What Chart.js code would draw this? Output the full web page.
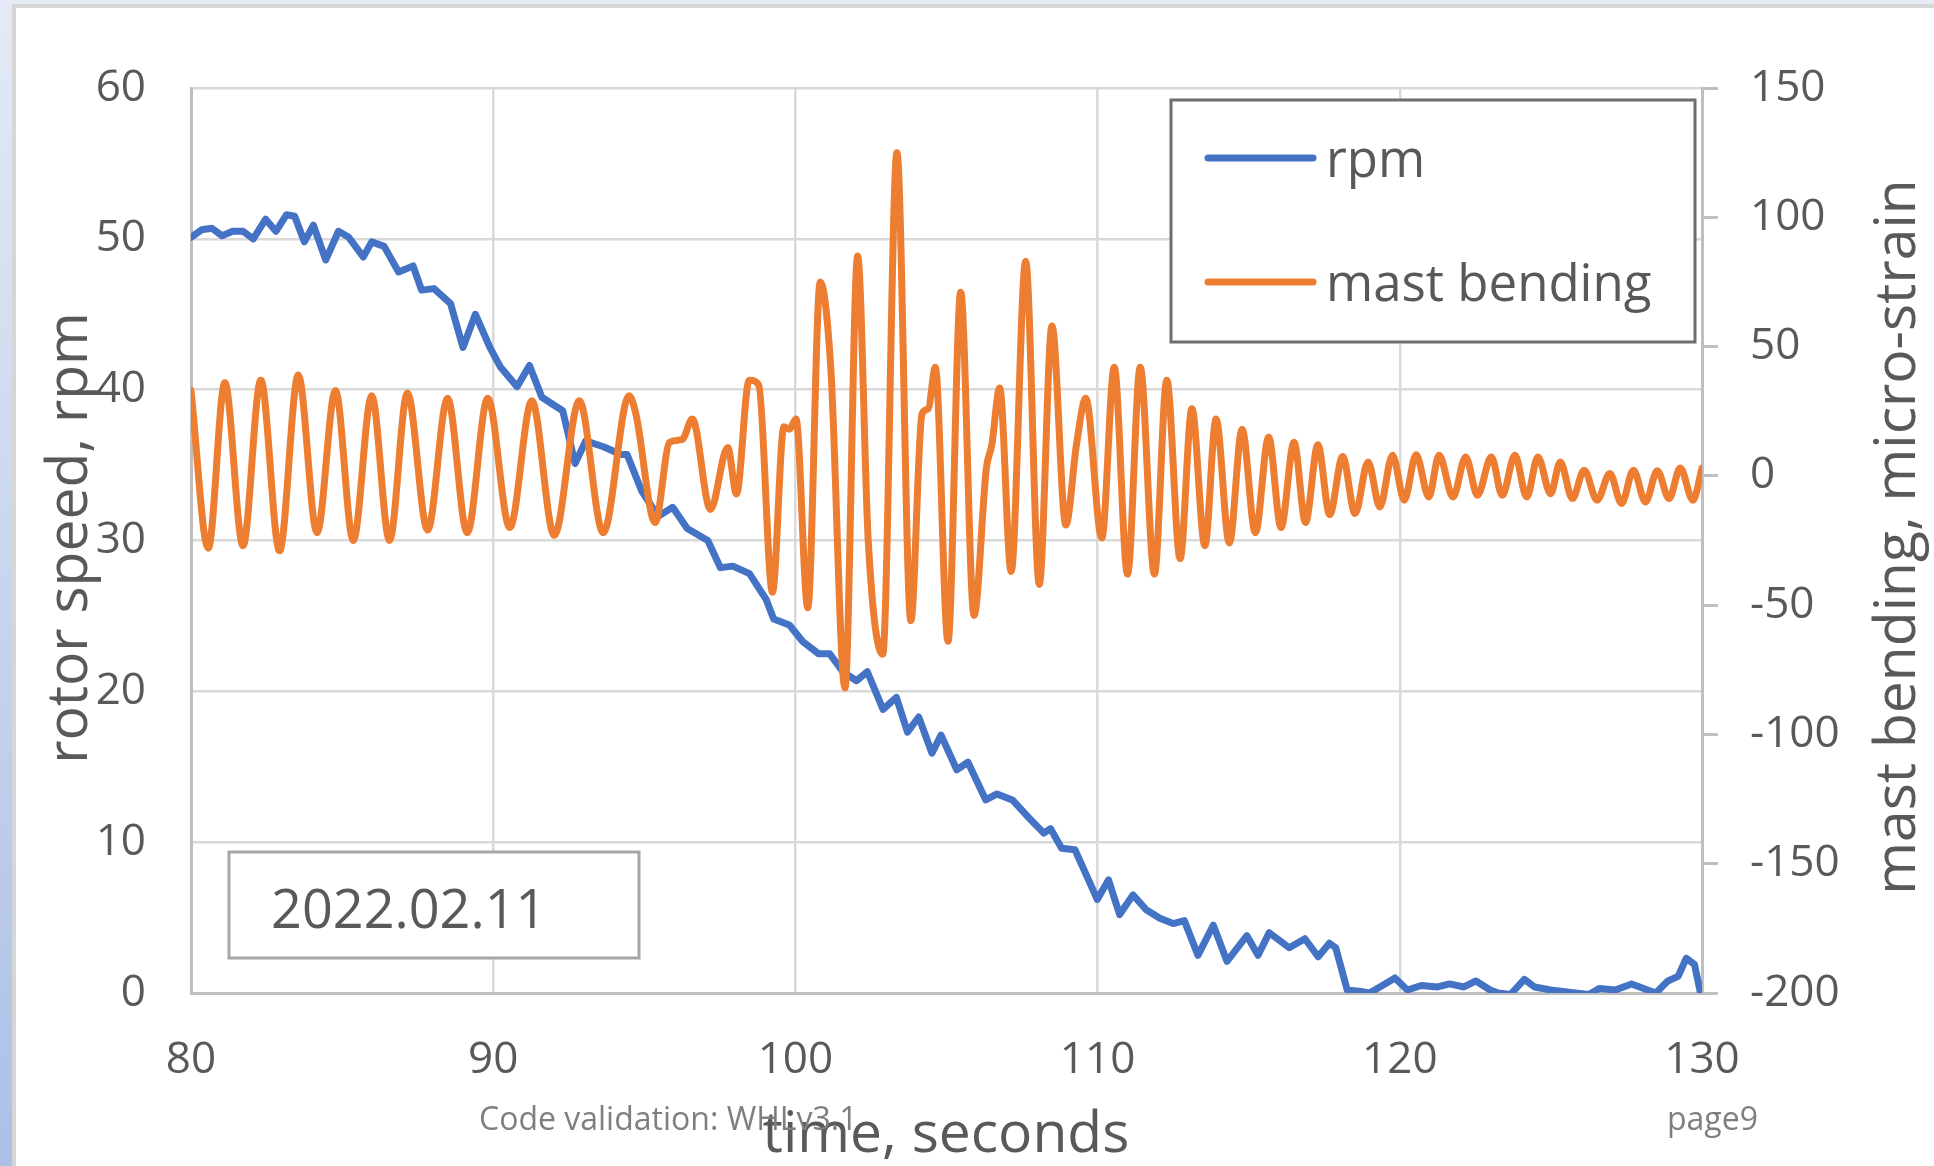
<!DOCTYPE html>
<html>
<head>
<meta charset="utf-8">
<script src="https://cdn.jsdelivr.net/npm/chart.js@4.4.1/dist/chart.umd.min.js"></script>
<style>
  html, body { margin: 0; padding: 0; background: #ffffff; }
  canvas { display: block; }
</style>
</head>
<body>
<canvas id="myChart" width="1934" height="1166"></canvas>
<script>
// values (time in s)
const rpmTime = [80.00, 80.35, 80.69, 81.03, 81.38, 81.72, 82.06, 82.47, 82.81, 83.16, 83.43, 83.75, 84.05, 84.46, 84.88,
  85.22, 85.70, 85.98, 86.39, 86.87, 87.35, 87.63, 88.04, 88.59, 89.00, 89.41, 89.89, 90.24, 90.79, 91.20,
  91.61, 92.30, 92.71, 93.06, 93.67, 94.22, 94.43, 94.91, 95.46, 95.94, 96.42, 97.10, 97.52, 97.93, 98.48,
  99.03, 99.28, 99.80, 100.24, 100.76, 101.13, 101.57, 102.02, 102.38, 102.90, 103.34, 103.71, 104.08, 104.52, 104.82,
  105.34, 105.71, 106.30, 106.67, 107.18, 107.78, 108.22, 108.44, 108.81, 109.25, 109.70, 109.99, 110.36, 110.73, 111.17,
  111.62, 112.06, 112.50, 112.87, 113.32, 113.83, 114.28, 114.94, 115.31, 115.68, 116.34, 116.86, 117.30, 117.67, 117.88,
  118.26, 118.71, 119.00, 119.51, 119.84, 120.25, 120.71, 121.25, 121.65, 122.12, 122.52, 122.99, 123.26, 123.66, 124.12,
  124.46, 124.99, 125.80, 126.26, 126.60, 127.13, 127.67, 128.07, 128.47, 128.87, 129.21, 129.48, 129.75, 129.95];
const rpmValue = [50.1, 50.6, 50.7, 50.2, 50.5, 50.5, 50.0, 51.3, 50.5, 51.6, 51.5, 49.8, 50.9, 48.6, 50.5,
  50.1, 48.8, 49.8, 49.5, 47.8, 48.2, 46.6, 46.7, 45.7, 42.8, 45.0, 42.8, 41.5, 40.2, 41.6,
  39.5, 38.6, 35.1, 36.6, 36.2, 35.7, 35.7, 33.3, 31.6, 32.2, 30.8, 30.0, 28.2, 28.3, 27.8,
  26.1, 24.8, 24.4, 23.3, 22.5, 22.5, 21.3, 20.7, 21.3, 18.8, 19.6, 17.3, 18.3, 15.9, 17.1,
  14.8, 15.3, 12.8, 13.2, 12.8, 11.5, 10.6, 10.9, 9.6, 9.5, 7.5, 6.2, 7.5, 5.2, 6.5,
  5.5, 4.95, 4.6, 4.8, 2.5, 4.5, 2.1, 3.8, 2.5, 4.0, 3.0, 3.6, 2.4, 3.3, 3.0,
  0.2, 0.1, 0.0, 0.6, 1.0, 0.2, 0.5, 0.4, 0.6, 0.4, 0.8, 0.2, 0.0, -0.1, 0.9,
  0.4, 0.2, 0.0, -0.1, 0.3, 0.2, 0.6, 0.3, 0.0, 0.8, 1.1, 2.3, 1.9, 0.0];

const bendTime = [80.00, 80.57, 81.12, 81.72, 82.31, 82.93, 83.55, 84.17, 84.78, 85.37, 85.98, 86.57, 87.16, 87.83, 88.49,
  89.14, 89.82, 90.55, 91.28, 92.02, 92.85, 93.64, 94.50, 94.72, 95.36, 95.84, 96.25, 96.59, 97.19, 97.76,
  98.05, 98.47, 98.79, 99.24, 99.62, 99.80, 100.02, 100.41, 100.82, 101.17, 101.64, 102.06, 102.41, 102.89, 103.36,
  103.82, 104.19, 104.40, 104.63, 105.05, 105.47, 105.91, 106.32, 106.50, 106.76, 107.14, 107.62, 108.07, 108.49, 108.95,
  109.30, 109.61, 110.14, 110.55, 110.99, 111.41, 111.88, 112.29, 112.73, 113.12, 113.55, 113.92, 114.36, 114.78, 115.22,
  115.66, 116.07, 116.50, 116.88, 117.29, 117.68, 118.11, 118.52, 118.95, 119.34, 119.76, 120.15, 120.54, 120.96, 121.30,
  121.76, 122.18, 122.57, 123.03, 123.39, 123.81, 124.20, 124.57, 124.99, 125.31, 125.71, 126.10, 126.53, 126.95, 127.34,
  127.73, 128.13, 128.52, 128.91, 129.28, 129.70, 130.00];
const bendValue = [33, -28, 36, -27, 37, -29, 39, -22, 33, -25, 31, -25, 32, -21, 30,
  -22, 30, -20, 29, -23, 29, -22, 31, 24, -18, 13, 14, 22, -13, 11,
  -7, 37, 35, -45, 19, 18, 22, -51, 75, 42, -82, 85, -25, -69, 125,
  -56, 24, 26, 42, -64, 71, -54, 3, 12, 34, -37, 83, -42, 58, -19,
  12, 30, -24, 42, -38, 42, -38, 37, -32, 26, -27, 22, -26, 18, -22,
  15, -20, 13, -18, 12, -15, 7.5, -14.6, 5.4, -12, 8, -9.4, 8.2, -8.2, 8,
  -8.2, 7.3, -7.5, 7.3, -7.5, 8, -8.2, 7.3, -6.9, 5.4, -8.8, 2.2, -9.4, 0.9, -10.7,
  2.2, -10.1, 2, -8.8, 3, -9.4, 3];

const timeTicks = [80, 90, 100, 110, 120, 130];
const rpmTicks = [0, 10, 20, 30, 40, 50, 60];
const bendTicks = [-200, -150, -100, -50, 0, 50, 100, 150];

const seriesNames = ['rpm', 'mast bending'];
const dateLabel = '2022.02.11';
const footerLeft = 'Code validation: WHLv3.1';
const footerRight = 'page9';

const FONT = "'Open Sans', 'Noto Sans', sans-serif";
const BLUE = '#4472C4';
const ORANGE = '#ED7D31';
const TEXT = '#595959';

Chart.defaults.font.family = FONT;
Chart.defaults.color = TEXT;

const setTicks = (list) => (scale) => { scale.ticks = list.map(v => ({ value: v })); };

const backdrop = {
  id: 'backdrop',
  beforeDraw(chart) {
    const c = chart.ctx;
    const w = chart.width, h = chart.height;
    c.save();
    c.fillStyle = '#ffffff';
    c.fillRect(0, 0, w, h);
    c.fillStyle = '#e6ebf5';
    c.fillRect(0, 0, w, 4);
    const g = c.createLinearGradient(0, 0, 0, h);
    g.addColorStop(0, '#e4eaf5');
    g.addColorStop(1, '#acc0e6');
    c.fillStyle = g;
    c.fillRect(0, 0, 12, h);
    c.fillStyle = '#d6d6d6';
    c.fillRect(12, 4, w - 12, 4);
    c.fillRect(12, 4, 4, h - 4);
    c.restore();
  }
};

const extras = {
  id: 'extras',
  afterDraw(chart) {
    const c = chart.ctx;
    c.save();

    // axis titles
    c.fillStyle = TEXT;
    c.font = '57px ' + FONT;
    c.textAlign = 'center';
    c.textBaseline = 'alphabetic';
    c.fillText('time, seconds', 946, 1152);

    c.save();
    c.translate(87, 538);
    c.rotate(-Math.PI / 2);
    c.fillText('rotor speed, rpm', 0, 0);
    c.restore();

    c.save();
    c.translate(1915, 537);
    c.rotate(-Math.PI / 2);
    c.fillText('mast bending, micro-strain', 0, 0);
    c.restore();

    // legend
    c.fillStyle = '#ffffff';
    c.fillRect(1171, 100, 524, 242);
    c.strokeStyle = '#6e6e6e';
    c.lineWidth = 3;
    c.strokeRect(1171, 100, 524, 242);
    const colors = [BLUE, ORANGE];
    const rows = [158, 282];
    c.lineCap = 'round';
    c.lineWidth = 7;
    c.font = '51px ' + FONT;
    c.textAlign = 'left';
    c.textBaseline = 'middle';
    seriesNames.forEach((name, i) => {
      c.strokeStyle = colors[i];
      c.beginPath();
      c.moveTo(1208, rows[i]);
      c.lineTo(1313, rows[i]);
      c.stroke();
      c.fillStyle = TEXT;
      c.fillText(name, 1326, rows[i] + 4);
    });

    // date box
    c.fillStyle = '#ffffff';
    c.fillRect(229, 852, 410, 106);
    c.strokeStyle = '#a6a6a6';
    c.lineWidth = 3;
    c.strokeRect(229, 852, 410, 106);
    c.fillStyle = TEXT;
    c.font = '54px ' + FONT;
    c.fillText(dateLabel, 271, 913);

    // footer
    c.fillStyle = '#7f7f7f';
    c.font = '32px ' + FONT;
    c.fillText(footerLeft, 479, 1121);
    c.fillText(footerRight, 1667, 1121);

    c.restore();
  }
};

document.addEventListener('DOMContentLoaded', () => {
  const ctx = document.getElementById('myChart').getContext('2d');
  const myChart = new Chart(ctx, {
    type: 'line',
    data: {
      datasets: [
        {
          label: seriesNames[0],
          data: rpmTime.map((t, i) => ({ x: t, y: rpmValue[i] })),
          borderColor: BLUE,
          borderWidth: 7,
          borderJoinStyle: 'round',
          borderCapStyle: 'round',
          pointRadius: 0,
          tension: 0,
          yAxisID: 'y',
          order: 1
        },
        {
          label: seriesNames[1],
          data: bendTime.map((t, i) => ({ x: t, y: bendValue[i] })),
          borderColor: ORANGE,
          borderWidth: 7,
          borderJoinStyle: 'round',
          borderCapStyle: 'round',
          pointRadius: 0,
          cubicInterpolationMode: 'monotone',
          yAxisID: 'y2',
          order: 0
        }
      ]
    },
    options: {
      responsive: false,
      animation: false,
      layout: { padding: { top: 88, left: 0, right: 0, bottom: 0 } },
      plugins: {
        legend: { display: false },
        tooltip: { enabled: false }
      },
      scales: {
        x: {
          type: 'linear',
          min: 80,
          max: 130,
          afterBuildTicks: setTicks(timeTicks),
          afterFit: (s) => { s.height = 173; },
          grid: { color: '#d9d9d9', lineWidth: 2.5, drawTicks: false },
          border: { color: '#bfbfbf', width: 3 },
          ticks: { font: { size: 44 }, color: TEXT, padding: 41, maxRotation: 0 }
        },
        y: {
          position: 'left',
          min: 0,
          max: 60,
          afterBuildTicks: setTicks(rpmTicks),
          afterFit: (s) => { s.width = 191; },
          grid: { color: '#d9d9d9', lineWidth: 2.5, drawTicks: false },
          border: { color: '#bfbfbf', width: 3 },
          ticks: { font: { size: 44 }, color: TEXT, padding: 45 }
        },
        y2: {
          position: 'right',
          min: -200,
          max: 150,
          afterBuildTicks: setTicks(bendTicks),
          afterFit: (s) => { s.width = 232; },
          grid: { drawOnChartArea: false, color: '#bfbfbf', lineWidth: 3, tickLength: 16 },
          border: { color: '#bfbfbf', width: 3 },
          ticks: { font: { size: 44 }, color: TEXT, padding: 32 }
        }
      }
    },
    plugins: [backdrop, extras]
  });
});
</script>
</body>
</html>
